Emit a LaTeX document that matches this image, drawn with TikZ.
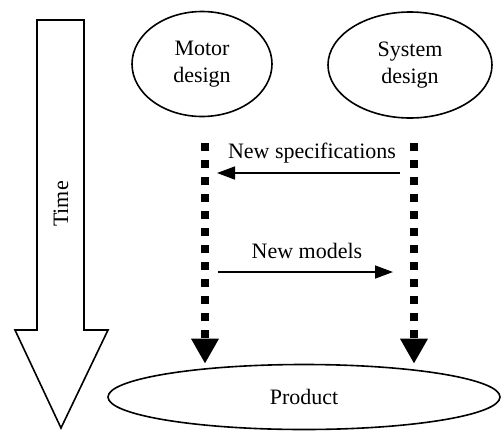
\documentclass[tikz,border=0pt]{standalone}
\usepackage{fontspec}
\setmainfont{Liberation Serif}
\usetikzlibrary{shapes.geometric,arrows.meta}
\begin{document}
\begin{tikzpicture}[x=1pt,y=-1pt,
                    enode/.style = {shape = ellipse,
                                    draw,
                                    line width = 1.6pt,
                                    inner sep = 0pt,
                                    align = center,
                                    font = \fontsize{22}{27}\selectfont},
                    tnode/.style = {inner sep = 0pt,
                                    font = \fontsize{22}{27}\selectfont},
                    dline/.style = {line width = 8pt,
                                    dash pattern = on 8pt off 9pt,
                                    -{Triangle[length=25pt,width=26pt]}},
                    harrow/.style = {line width = 1.6pt,
                                     -{Triangle[length=18pt,width=13pt]}}]
		\useasboundingbox (0,0) rectangle (501,432);
		% time arrow
		\draw[line width=1.6pt] (37,20) -- (84,20) -- (84,330) -- (108,330)
		  -- (61,428) -- (15,330) -- (37,330) -- cycle;
		\node[tnode, rotate=90] (time) at (61,204) {Time};
		\node[enode, minimum width=140pt, minimum height=105pt] (motor) at (202,64) {Motor\\design};
		\node[enode, minimum width=164pt, minimum height=106pt] (system) at (410,65) {System\\design};
		\node[enode, minimum width=392pt, minimum height=65pt] (product) at (304,397) {Product};
		\coordinate (ltop) at (205,143);
		\coordinate (rtop) at (414,143);
		\draw[dline] (ltop) -- (ltop |- product.north);
		\draw[dline] (rtop) -- (rtop |- product.north);
		% exchanges
		\coordinate (s1) at (400,173);
		\coordinate (s2) at (217,173);
		\coordinate (m1) at (218,272);
		\coordinate (m2) at (393,272);
		\draw[harrow] (s1) -- (s2);
		\draw[harrow] (m1) -- (m2);
		\node[tnode] (spec) at (312,153) {New specifications};
		\node[tnode] (models) at (307,251) {New models};
	\end{tikzpicture}
\end{document}
